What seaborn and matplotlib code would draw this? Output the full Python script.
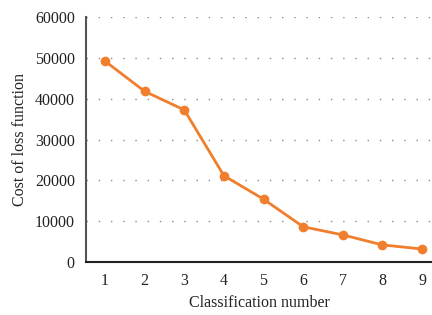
import matplotlib
matplotlib.use("Agg")
import matplotlib.pyplot as plt
import seaborn as sns
import pandas as pd

# values
classes = [1, 2, 3, 4, 5, 6, 7, 8, 9]
cost = [49200, 41800, 37250, 21150, 15400, 8650, 6650, 4200, 3200]

df = pd.DataFrame({"Classification number": classes, "Cost of loss function": cost})

sns.set_style("white")
plt.rcParams['font.family'] = ['Liberation Serif', 'DejaVu Serif']

fig = plt.figure(figsize=(4.32, 3.15), dpi=100)
ax = fig.add_axes([0.199, 0.168, 0.801, 0.778])

sns.lineplot(data=df, x="Classification number", y="Cost of loss function",
             color="#F07E2C", linewidth=2, marker="o", markersize=7,
             markeredgewidth=0, ax=ax)

ax.set_xlim(0.52, 9.25)
ax.set_ylim(0, 60000)
ax.set_xticks(classes)
ax.set_yticks(range(0, 60001, 10000))
ax.yaxis.grid(True, linestyle=(0, (1, 7.8)), color="#8a8a8a", linewidth=1)
ax.set_axisbelow(True)
ax.tick_params(axis="both", length=0, labelsize=11.5, colors="#222222", pad=8)

for s in ["top", "right"]:
    ax.spines[s].set_visible(False)
ax.spines["left"].set_color("#555555")
ax.spines["left"].set_linewidth(1.5)
ax.spines["bottom"].set_color("#222222")
ax.spines["bottom"].set_linewidth(1.5)

ax.set_xlabel("Classification number", fontsize=11.5, color="#222222", labelpad=4)
ax.set_ylabel("Cost of loss function", fontsize=11.5, color="#222222", labelpad=5)

fig.savefig("out.png", dpi=100)
